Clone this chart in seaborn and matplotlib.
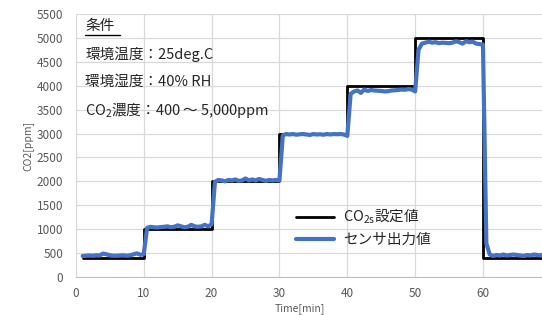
import numpy as np
import pandas as pd
import seaborn as sns
import matplotlib.pyplot as plt
from matplotlib.lines import Line2D

# setpoint steps (minutes, ppm)
set_time = [1, 10, 10, 20, 20, 30, 30, 40, 40, 50, 50, 60, 60, 69]
set_ppm = [400, 400, 1000, 1000, 2000, 2000, 3000, 3000, 4000, 4000, 5000, 5000, 400, 400]

# sensor output, every 0.5 min from 1.0 to 69.0
seg1 = [440, 445, 450, 445, 455, 450, 490, 475, 455, 445, 445, 450, 455, 445, 455, 475, 495, 465, 475]
seg2 = [1030, 1050, 1040, 1035, 1045, 1050, 1060, 1040, 1050, 1080, 1060, 1040, 1050, 1090, 1060,
        1050, 1060, 1090, 1060, 1100]
seg3 = [1990, 2030, 2020, 2000, 2030, 2020, 2040, 2010, 2020, 2060, 2020, 2040, 2020, 2050, 2030,
        2010, 2030, 2020, 2030, 2020]
seg4 = [2960, 2990, 2980, 2990, 2975, 2985, 2990, 2980, 2970, 2990, 2980, 2985, 2975, 2990, 2980,
        2990, 2985, 2990, 2980, 2950]
seg5 = [3830, 3880, 3900, 3850, 3920, 3890, 3910, 3900, 3895, 3890, 3880, 3885, 3900, 3905, 3910,
        3920, 3915, 3930, 3920, 3880]
seg6 = [4750, 4880, 4900, 4920, 4900, 4910, 4890, 4900, 4895, 4890, 4900, 4930, 4910, 4880, 4930,
        4910, 4920, 4880, 4870, 4860]
seg7 = [700, 470, 440, 460, 450, 470, 450, 460, 470, 460, 450, 440, 460, 450, 470, 460, 450, 480]
sensor_ppm = seg1 + seg2 + seg3 + seg4 + seg5 + seg6 + seg7
sensor_time = [1 + 0.5 * i for i in range(len(sensor_ppm))]

sns.set_style('white')
plt.rcParams['font.family'] = ['Noto Sans CJK JP', 'DejaVu Sans']
plt.rcParams['mathtext.default'] = 'regular'

fig = plt.figure(figsize=(5.42, 3.15), dpi=100)
ax = fig.add_axes([0.140, 0.1206, 0.860, 0.835])

set_df = pd.DataFrame({'time': set_time, 'ppm': set_ppm})
sen_df = pd.DataFrame({'time': sensor_time, 'ppm': sensor_ppm})
sns.lineplot(data=set_df, x='time', y='ppm', color='black', linewidth=2.0, sort=False,
             estimator=None, ax=ax, zorder=3)
sns.lineplot(data=sen_df, x='time', y='ppm', color='#4472C4', linewidth=3.0, sort=False,
             estimator=None, ax=ax, zorder=4)

ax.set_xlim(0, 68.7)
ax.set_ylim(0, 5500)
ax.set_xticks(range(0, 70, 10))
ax.set_yticks(range(0, 5501, 500))
ax.grid(True, color='#d9d9d9', linewidth=0.9)
ax.set_axisbelow(True)
for s in ['top', 'right', 'left']:
    ax.spines[s].set_visible(False)
ax.spines['bottom'].set_color('#bfbfbf')
ax.tick_params(axis='both', labelsize=8.5, colors='#595959', length=0)
ax.tick_params(axis='y', pad=9)
ax.tick_params(axis='x', pad=7)
ax.set_xlabel('Time[min]', fontsize=7.5, color='#595959')
ax.set_ylabel('CO2[ppm]', fontsize=7.5, color='#595959')
ax.xaxis.set_label_coords(0.48, -0.1)
ax.yaxis.set_label_coords(-0.092, 0.5)

# conditions text
tx = 0.02
ax.text(tx, 0.955, '条件', transform=ax.transAxes, fontsize=10.5, va='center')
ax.add_line(Line2D([tx, tx + 0.075], [0.922, 0.922], transform=ax.transAxes, color='black', linewidth=1.0))
ax.text(tx, 0.848, '環境温度：25deg.C', transform=ax.transAxes, fontsize=10.5, va='center')
ax.text(tx, 0.741, '環境湿度：40% RH', transform=ax.transAxes, fontsize=10.5, va='center')
ax.text(tx, 0.632, 'CO$_2$濃度：400 ～ 5,000ppm', transform=ax.transAxes, fontsize=10.5, va='center')

handles = [Line2D([], [], color='black', linewidth=2.0), Line2D([], [], color='#4472C4', linewidth=3.0)]
ax.legend(handles, ['CO$_{2s}$設定値', 'センサ出力値'], loc='lower left', bbox_to_anchor=(0.445, 0.065),
          frameon=False, fontsize=10.5, handlelength=2.6, handletextpad=0.6, labelspacing=0.45)

fig.savefig('out.png', dpi=100)
